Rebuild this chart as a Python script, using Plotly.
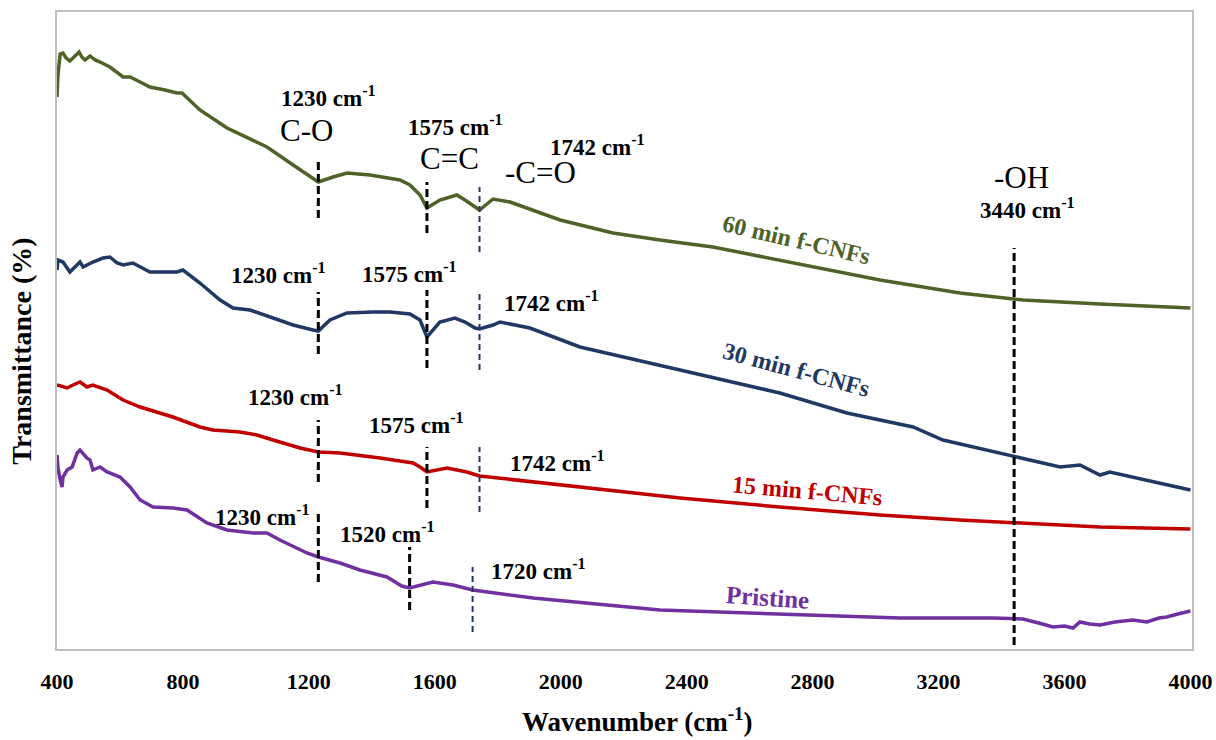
import plotly.graph_objects as go

# FTIR spectra of CNF samples (transmittance, stacked with offsets)
wn_60 = [400, 403, 410, 419, 429, 441, 454, 470, 479, 489, 505, 521, 537, 568, 610, 632, 664, 695,
         743, 781, 797, 822, 854, 940, 1003, 1067, 1150, 1204, 1230, 1277, 1321, 1394, 1489, 1521,
         1553, 1575, 1616, 1670, 1696, 1742, 1785, 1839, 1912, 1998, 2166, 2315, 2483, 2801, 3014,
         3268, 3468, 3713, 4000]
t_60 = [55.2, 57.4, 59.5, 59.6, 59.1, 58.8, 59.2, 59.7, 59.2, 58.9, 59.3, 58.9, 58.7, 58.2, 57.2,
        57.2, 56.7, 56.2, 55.9, 55.6, 55.6, 54.9, 53.9, 52.1, 51.2, 50.2, 48.4, 47.2, 46.7, 47.2,
        47.6, 47.4, 46.9, 46.4, 45.4, 44.1, 44.9, 45.4, 44.9, 43.9, 45.0, 44.7, 43.9, 42.9, 41.6,
        40.9, 40.2, 38.2, 36.9, 35.6, 34.9, 34.5, 34.1]

wn_30 = [400, 403, 419, 441, 457, 473, 483, 514, 546, 568, 591, 610, 641, 695, 727, 781, 800, 854,
         918, 959, 1013, 1086, 1150, 1213, 1230, 1267, 1321, 1404, 1458, 1521, 1553, 1575, 1616,
         1664, 1696, 1728, 1742, 1785, 1807, 1902, 2061, 2379, 2696, 2909, 3119, 3214, 3468, 3586,
         3649, 3713, 3744, 3817, 3925, 4000]
t_30 = [37.9, 38.9, 38.7, 37.7, 38.2, 38.7, 38.2, 38.7, 39.1, 39.2, 38.6, 38.4, 38.6, 37.7, 37.7,
        37.7, 37.9, 36.6, 34.9, 34.1, 33.9, 33.1, 32.4, 31.9, 31.8, 32.9, 33.6, 33.7, 33.7, 33.5,
        32.9, 31.2, 32.7, 33.1, 32.7, 32.1, 32.0, 32.4, 32.7, 32.1, 30.2, 27.9, 25.6, 23.6, 22.2,
        20.9, 19.1, 18.2, 18.4, 17.4, 17.7, 17.2, 16.4, 15.9]

wn_15 = [400, 432, 451, 473, 495, 514, 559, 610, 664, 768, 854, 895, 981, 1035, 1086, 1172, 1230,
         1299, 1426, 1531, 1553, 1575, 1639, 1702, 1742, 1912, 2061, 2379, 2696, 3014, 3268, 3468,
         3713, 4000]
t_15 = [26.4, 26.1, 26.4, 26.7, 26.2, 26.4, 25.9, 24.9, 24.2, 23.2, 22.2, 21.9, 21.7, 21.4, 20.9,
        20.1, 19.7, 19.6, 19.1, 18.6, 18.2, 17.7, 18.1, 17.7, 17.3, 16.7, 16.2, 15.1, 14.2, 13.4,
        12.9, 12.6, 12.2, 12.0]

wn_pr = [400, 403, 410, 416, 419, 432, 448, 464, 473, 495, 505, 514, 537, 559, 600, 632, 664, 705,
         768, 813, 876, 940, 1023, 1067, 1108, 1194, 1230, 1299, 1362, 1448, 1495, 1520, 1594, 1658,
         1720, 1912, 2315, 2760, 3077, 3373, 3468, 3530, 3563, 3600, 3627, 3649, 3680, 3713, 3760,
         3817, 3862, 3900, 3925, 3960, 4000]
t_pr = [19.4, 18.2, 16.9, 16.2, 17.2, 17.9, 18.2, 19.6, 19.9, 19.1, 18.9, 17.9, 18.2, 17.7, 17.2,
        16.2, 14.9, 14.2, 14.1, 13.9, 12.6, 11.9, 11.6, 11.6, 10.9, 9.6, 9.2, 8.6, 7.9, 7.2, 6.3,
        6.1, 6.7, 6.4, 5.9, 5.1, 3.9, 3.4, 3.1, 3.1, 3.0, 2.5, 2.2, 2.3, 2.1, 2.7, 2.5, 2.4, 2.7,
        2.9, 2.7, 3.1, 3.2, 3.5, 3.8]

# Band positions marked on each spectrum (cm-1)
bands_60 = [1230, 1575, 1742, 3440]
bands_30 = [1230, 1575, 1742]
bands_15 = [1230, 1575, 1742]
bands_pr = [1230, 1520, 1720]

x_ticks = [400, 800, 1200, 1600, 2000, 2400, 2800, 3200, 3600, 4000]

SERIF = "Liberation Serif, Times New Roman, serif"
GREEN, NAVY, RED, PURPLE = "#4F6228", "#1F3864", "#C00000", "#7030A0"

fig = go.Figure()
for wn, t, col in [(wn_60, t_60, GREEN), (wn_30, t_30, NAVY),
                   (wn_15, t_15, RED), (wn_pr, t_pr, PURPLE)]:
    fig.add_trace(go.Scatter(x=wn, y=t, mode="lines",
                             line=dict(color=col, width=3.5), showlegend=False,
                             hoverinfo="skip"))

# dashed band markers: vertical extent of each marker beside its spectrum
extents = {
    "60": [(43.1, 49.1), (41.6, 46.7), (39.7, 46.2), (0.4, 40.1)],
    "30": [(29.5, 35.7), (28.1, 35.9), (27.9, 35.9)],
    "15": [(16.7, 22.9), (14.1, 20.2), (13.7, 20.2)],
    "pr": [(6.7, 13.7), (3.9, 10.2), (1.7, 8.2)],
}
for key, bands in [("60", bands_60), ("30", bands_30), ("15", bands_15), ("pr", bands_pr)]:
    for b, (y0, y1) in zip(bands, extents[key]):
        carbonyl = b in (1742, 1720)
        fig.add_shape(type="line", xref="x", yref="y", x0=b, x1=b, y0=y0, y1=y1,
                      line=dict(color=NAVY if carbonyl else "black",
                                width=2 if carbonyl else 3,
                                dash="6px,4px" if carbonyl else "8px,4px"))

def band_label(v):
    return f"<b>{v} cm<sup>-1</sup></b>"

BL, GL = 23, 31  # band-label and group-label font sizes
labels = [
    # 60 min
    (band_label(1230), 1261, 55.3, BL), ("C-O", 1191, 51.9, GL),
    (band_label(1575), 1667, 52.4, BL), ("C=C", 1648, 49.1, GL),
    (band_label(1742), 2118, 50.4, BL), ("-C=O", 1937, 47.7, GL),
    ("-OH", 3465, 47.2, GL), (band_label(3440), 3481, 44.1, BL),
    # 30 min
    (band_label(1230), 1102, 37.6, BL), (band_label(1575), 1521, 37.7, BL),
    (band_label(1742), 1972, 34.8, BL),
    # 15 min
    (band_label(1230), 1156, 25.4, BL), (band_label(1575), 1543, 22.6, BL),
    (band_label(1742), 1991, 18.8, BL),
    # pristine
    (band_label(1230), 1054, 13.4, BL), (band_label(1520), 1451, 11.7, BL),
    (band_label(1720), 1928, 8.0, BL),
]
for text, x, y, size in labels:
    fig.add_annotation(x=x, y=y, xref="x", yref="y", text=text, showarrow=False,
                       font=dict(family=SERIF, size=size, color="black"),
                       xanchor="center", yanchor="middle")

series_names = [("<b>60 min f-CNFs</b>", 2750, 40.9, 13, GREEN, 24),
                ("<b>30 min f-CNFs</b>", 2750, 27.9, 15, NAVY, 24),
                ("<b>15 min f-CNFs</b>", 2785, 15.8, 5, RED, 24),
                ("<b>Pristine</b>", 2658, 5.2, 4, PURPLE, 25)]
for text, x, y, ang, col, size in series_names:
    fig.add_annotation(x=x, y=y, xref="x", yref="y", text=text, showarrow=False,
                       textangle=ang, font=dict(family=SERIF, size=size, color=col),
                       xanchor="center", yanchor="middle")

# axis titles
fig.add_annotation(x=0.511, y=-0.111, xref="paper", yref="paper",
                   text="<b>Wavenumber (cm<sup>-1</sup>)</b>", showarrow=False,
                   font=dict(family=SERIF, size=27, color="black"),
                   xanchor="center", yanchor="middle")
fig.add_annotation(x=-0.031, y=0.468, xref="paper", yref="paper",
                   text="<b>Transmittance (%)</b>", showarrow=False, textangle=-90,
                   font=dict(family=SERIF, size=28, color="black"),
                   xanchor="center", yanchor="middle")

fig.update_layout(
    width=1216, height=740,
    margin=dict(l=57, r=24, t=12, b=91, autoexpand=False),
    paper_bgcolor="white", plot_bgcolor="white",
    font=dict(family=SERIF),
    xaxis=dict(range=[400, 4005], tickvals=x_ticks, ticks="", showgrid=False,
               zeroline=False, showline=True, mirror=True, linecolor="#BFBFBF",
               linewidth=2, ticklabelstandoff=12, automargin=False,
               tickfont=dict(family=SERIF, size=22, color="black", weight="bold")),
    yaxis=dict(range=[0, 63.7], showticklabels=False, ticks="", showgrid=False,
               zeroline=False, showline=True, mirror=True, linecolor="#BFBFBF",
               linewidth=2, automargin=False),
)

fig.write_html("out.html")
